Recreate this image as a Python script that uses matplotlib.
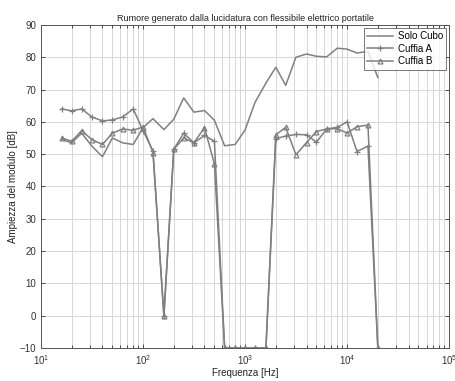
import matplotlib
matplotlib.use("Agg")
import matplotlib.pyplot as plt
from matplotlib.ticker import LogLocator, NullFormatter

plt.rcParams['font.family'] = ['Liberation Sans', 'DejaVu Sans']

freqs = [16, 20, 25, 31.5, 40, 50, 63, 80, 100, 125, 160, 200, 250, 315, 400, 500,
         630, 800, 1000, 1250, 1600, 2000, 2500, 3150, 4000, 5000, 6300, 8000,
         10000, 12500, 16000, 20000]

solo_cubo = [54.5, 53.5, 56.5, 52.5, 49.2, 55.0, 53.5, 53.0, 58.2, 61.0, 57.6, 60.8,
             67.4, 63.0, 63.5, 60.5, 52.6, 53.0, 57.5, 66.0, 72.0, 76.9, 71.3, 80.0,
             81.0, 80.3, 80.1, 82.8, 82.5, 81.3, 81.8, 73.7]

cuffia_a = [64.0, 63.4, 64.0, 61.5, 60.3, 60.6, 61.5, 64.0, 57.3, 51.0, 0, 51.5,
            56.5, 53.5, 55.8, 54.0, -10, -10, -10, -10, -10, 54.8, 55.6, 56.1,
            56.0, 53.7, 57.8, 58.3, 60.0, 50.8, 52.5, -10]

cuffia_b = [55.0, 54.0, 57.3, 54.5, 53.0, 56.5, 57.8, 57.4, 58.4, 50.5, 0, 51.5,
            55.0, 53.5, 58.2, 47.0, -10, -10, -10, -10, -10, 56.0, 58.3, 49.8,
            53.6, 57.0, 57.8, 57.9, 56.5, 58.5, 59.0, -10]

title = "Rumore generato dalla lucidatura con flessibile elettrico portatile"
xlabel = "Frequenza [Hz]"
ylabel = "Ampiezza del modulo [dB]"
yticks = [-10, 0, 10, 20, 30, 40, 50, 60, 70, 80, 90]

fig = plt.figure(figsize=(4.56, 3.81), dpi=100)
ax = fig.add_axes([0.09, 0.0866, 0.895, 0.848])

lc = '#808080'
ax.plot(freqs, solo_cubo, color=lc, lw=1.1, label='Solo Cubo')
ax.plot(freqs, cuffia_a, color=lc, lw=1.1, marker='+', ms=4, mew=0.9, label='Cuffia A')
ax.plot(freqs, cuffia_b, color=lc, lw=1.1, marker='^', ms=3.5, mfc='none', mew=0.9,
        label='Cuffia B')

ax.set_xscale('log')
ax.set_xlim(10, 1e5)
ax.set_ylim(-10, 90)
ax.set_yticks(yticks)
ax.xaxis.set_major_locator(LogLocator(base=10, numticks=10))
ax.xaxis.set_minor_locator(LogLocator(base=10, subs=range(2, 10), numticks=100))
ax.xaxis.set_minor_formatter(NullFormatter())

ax.grid(True, which='major', color='#d6d6d6', lw=0.7, ls='-')
ax.grid(True, which='minor', axis='x', color='#d6d6d6', lw=0.7, ls='-')
ax.set_axisbelow(True)

ax.tick_params(which='both', direction='in', top=True, right=True, labelsize=7,
               colors='#333333', width=0.6)
ax.tick_params(which='major', length=3)
ax.tick_params(which='minor', length=2)
for s in ax.spines.values():
    s.set_color('#555555')
    s.set_linewidth(0.7)

ax.set_title(title, fontsize=6.5, pad=3, color='#222222')
ax.set_xlabel(xlabel, fontsize=7, labelpad=1, color='#222222')
ax.set_ylabel(ylabel, fontsize=7, labelpad=1, color='#222222')

leg = ax.legend(loc='upper right', fontsize=7, frameon=True, fancybox=False,
                edgecolor='#555555', borderpad=0.35, labelspacing=0.25,
                handlelength=2.6, handletextpad=0.5, borderaxespad=0.3)
leg.get_frame().set_linewidth(0.7)

fig.savefig('out.png', dpi=100)
